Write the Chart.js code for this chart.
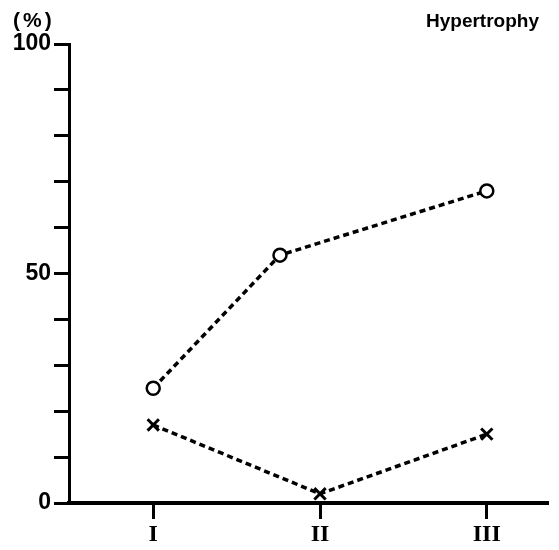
<!DOCTYPE html>
<html>
<head>
<meta charset="utf-8">
<script src="https://cdn.jsdelivr.net/npm/chart.js@4/dist/chart.umd.min.js"></script>
<style>
  html, body { margin: 0; padding: 0; background: #fff; }
  #wrap { width: 559px; height: 550px; }
</style>
</head>
<body>
<div id="wrap"><canvas id="chart" width="559" height="550"></canvas></div>
<script>
// stage labels and their positions on the x scale
const stageLabels = ['I', 'II', 'III'];
const stagePos = [1, 2, 3];

// open circles
const circleX = [1, 1.76, 3];
const circleY = [25, 54, 68];

// crosses
const crossX = [1, 2, 3];
const crossY = [17, 2, 15];

const yLabelled = [0, 50, 100];

const toPoints = (xs, ys) => xs.map((x, i) => ({ x: x, y: ys[i] }));

// extra texts: unit on top of the y axis and the panel name
const textPlugin = {
  id: 'panelText',
  afterDraw(chart) {
    const ctx = chart.ctx;
    ctx.save();
    ctx.fillStyle = '#000';
    ctx.textBaseline = 'alphabetic';
    ctx.textAlign = 'left';
    ctx.font = 'bold 21px "Liberation Sans"';
    ctx.letterSpacing = '3px';
    ctx.fillText('(%)', 13, 27);
    ctx.letterSpacing = '0px';
    ctx.font = 'bold 19px "Liberation Sans"';
    ctx.fillText('Hypertrophy', 426, 27);
    ctx.restore();
  }
};

new Chart(document.getElementById('chart'), {
  type: 'scatter',
  data: {
    datasets: [{
      data: toPoints(circleX, circleY),
      showLine: true,
      borderColor: '#000',
      borderWidth: 3.5,
      borderDash: [6, 4],
      pointStyle: 'circle',
      pointRadius: 6.5,
      pointBorderWidth: 2.5,
      pointBackgroundColor: '#fff',
      pointBorderColor: '#000'
    }, {
      data: toPoints(crossX, crossY),
      showLine: true,
      borderColor: '#000',
      borderWidth: 3.5,
      borderDash: [6, 4],
      pointStyle: 'crossRot',
      pointRadius: 8,
      pointBorderWidth: 3,
      pointBorderColor: '#000'
    }]
  },
  options: {
    responsive: false,
    animation: false,
    clip: false,
    layout: { padding: { top: 44, right: 2, left: 0, bottom: 0 } },
    plugins: {
      legend: { display: false },
      tooltip: { enabled: false }
    },
    scales: {
      x: {
        type: 'linear',
        min: 0.495,
        max: 3.367,
        afterBuildTicks(scale) {
          scale.ticks = stagePos.map(v => ({ value: v }));
        },
        afterFit(scale) { scale.height = 47; },
        border: { display: true, color: '#000', width: 4 },
        grid: {
          drawOnChartArea: false,
          drawTicks: true,
          tickLength: 16,
          tickWidth: 3,
          tickColor: '#000'
        },
        ticks: {
          color: '#000',
          padding: 1,
          maxRotation: 0,
          font: { family: '"Liberation Serif"', size: 24, weight: 'bold' },
          callback: (v) => stageLabels[stagePos.indexOf(v)] || ''
        }
      },
      y: {
        min: 0,
        max: 100,
        afterFit(scale) { scale.width = 69; },
        border: { display: true, color: '#000', width: 3 },
        grid: {
          drawOnChartArea: false,
          drawTicks: true,
          tickLength: 15,
          tickWidth: 3,
          tickColor: '#000'
        },
        ticks: {
          stepSize: 10,
          color: '#000',
          padding: 3,
          font: { family: '"Liberation Sans"', size: 23, weight: 'bold' },
          callback: (v) => yLabelled.includes(v) ? String(v) : ''
        }
      }
    }
  },
  plugins: [textPlugin]
});
</script>
</body>
</html>
